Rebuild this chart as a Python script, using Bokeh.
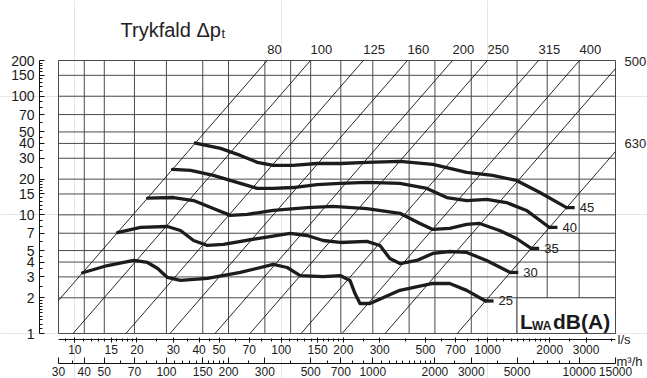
import math
from bokeh.plotting import figure
from bokeh.models import Range1d, LogAxis, LogScale, FixedTicker, Label, LabelSet, ColumnDataSource
from bokeh.embed import file_html
from bokeh.resources import INLINE
from bokeh.core.properties import value

FONT = "Liberation Sans"
INK = "#1a1a1a"

# ---------------- data ----------------
m3h_min, m3h_max = 30, 15000          # air flow span (m³/h)
p_min, p_max = 1, 200                 # pressure drop span (Pa)
m3h_per_ls = 3.6

p_ticks = [1, 2, 3, 4, 5, 7, 10, 15, 20, 30, 40, 50, 70, 100, 150, 200]
p_minor = [1.1, 1.2, 1.3, 1.4, 1.5, 1.6, 1.7, 1.8, 1.9, 2.5, 3.5, 4.5, 6, 8, 9,
           11, 12, 13, 14, 16, 17, 18, 19, 25, 35, 45, 60, 80, 90,
           110, 120, 130, 140, 160, 170, 180, 190]
ls_ticks = [10, 15, 20, 30, 40, 50, 70, 100, 150, 200, 300, 500, 700, 1000, 2000, 3000]
ls_minor = [9, 11, 12, 13, 14, 16, 17, 18, 19, 25, 35, 45, 60, 80, 90,
            110, 120, 130, 140, 160, 170, 180, 190, 250, 400, 600, 800, 900,
            1100, 1200, 1300, 1400, 1500, 1600, 1700, 1800, 1900, 2500, 4000]
m3h_ticks = [30, 40, 50, 70, 100, 150, 200, 300, 500, 700, 1000, 2000, 3000, 5000, 10000, 15000]
m3h_minor = [35, 60, 80, 90, 110, 120, 130, 140, 160, 170, 180, 190, 250, 400, 600, 800, 900,
             1100, 1200, 1300, 1400, 1500, 1600, 1700, 1800, 1900, 2500, 4000, 6000, 7000, 8000, 9000]
m3h_grid = [30, 40, 50, 70, 100, 150, 200, 300, 400, 500, 700, 1000, 1500, 2000, 3000, 5000, 7000, 10000, 15000]
p_grid = [1, 2, 3, 4, 5, 7, 10, 15, 20, 30, 40, 50, 70, 100, 150, 200]

duct_labels = ["80", "100", "125", "160", "200", "250", "315", "400", "500", "630"]
duct_q_at_200pa = [85.5, 138.6, 250, 409, 676, 998, 1764, 2787, 4506, 10076]   # l/s

level_labels = ["25", "30", "35", "40", "45"]
q_25 = [10.9, 14.4, 19.3, 22.5, 25.2, 28.1, 32.5, 43.9, 63.4, 91.5, 106.9, 123.6, 159.6, 192.8,
        215.4, 227.8, 240.8, 269.2, 375.8, 542.5, 655.3, 791.6, 977]
p_25 = [3.25, 3.74, 4.13, 3.97, 3.53, 2.97, 2.80, 2.91, 3.27, 3.82, 3.60, 3.08, 3.02, 3.08,
        2.80, 2.17, 1.79, 1.79, 2.31, 2.64, 2.64, 2.31, 1.88]
q_30 = [16.1, 20.8, 28.1, 32.5, 37.6, 43.9, 52.5, 76.6, 110.5, 133.6, 159.6, 192.8, 260, 301,
        336, 376, 454, 543, 655, 792, 989, 1288]
p_30 = [7.09, 7.83, 7.98, 7.38, 6.08, 5.52, 5.63, 6.32, 6.97, 6.70, 6.08, 5.85, 5.97, 5.52,
        4.29, 3.89, 4.13, 4.73, 4.91, 4.82, 4.13, 3.27]
q_35 = [22.5, 30.1, 37.6, 46.9, 56.7, 68.5, 91.5, 133.6, 178, 260, 376, 470, 543, 655, 792, 915,
        1143, 1381, 1626]
p_35 = [13.85, 14.0, 13.2, 11.3, 9.9, 10.1, 10.9, 11.5, 11.8, 11.3, 10.3, 8.46, 7.53, 7.68, 8.30, 8.46,
        7.38, 6.32, 5.21]
q_40 = [29.75, 36.4, 46.9, 63.4, 76.6, 91.5, 114, 149, 193, 260, 376, 508, 634, 792, 989, 1235, 1543, 1994]
p_40 = [24.2, 23.7, 21.5, 18.4, 16.7, 16.7, 17.0, 18.0, 18.4, 18.8, 18.4, 16.7, 14.0, 13.2, 13.5, 12.7, 10.9, 7.83]
q_45 = [38.4, 50.8, 63.4, 76.6, 91.5, 114, 149, 193, 260, 376, 543, 792, 1057, 1381, 1783, 2416]
p_45 = [40.3, 36.3, 31.7, 27.7, 26.1, 26.1, 27.1, 27.1, 27.7, 28.2, 26.6, 22.8, 21.5, 19.5, 15.5, 11.5]
curves_q = [q_25, q_30, q_35, q_40, q_45]
curves_p = [p_25, p_30, p_35, p_40, p_45]

# ---------------- layout (frame = whole canvas) ----------------
W, H = 647, 378
GX0, GX1 = 58, 615        # canvas x of grid left / right edge
GY0, GY1 = 60, 333        # canvas y of grid top (200 Pa) / bottom (1 Pa)
q_lo_ls = m3h_min / m3h_per_ls
q_hi_ls = m3h_max / m3h_per_ls
dec_x = (GX1 - GX0) / math.log10(q_hi_ls / q_lo_ls)
dec_y = (GY1 - GY0) / math.log10(p_max / p_min)

def x_at(px):
    return q_lo_ls * 10 ** ((px - GX0) / dec_x)

def y_at(py):
    return p_min * 10 ** ((GY1 - py) / dec_y)

p = figure(width=W, height=H, x_axis_type="log", y_axis_type="log",
           x_range=Range1d(x_at(0), x_at(W)), y_range=Range1d(y_at(H), y_at(0)),
           x_axis_location=None, y_axis_location=None, title=None,
           output_backend="svg", toolbar_location=None,
           min_border_left=0, min_border_right=0, min_border_top=0, min_border_bottom=0)
p.outline_line_color = None
p.background_fill_color = "white"
p.border_fill_color = "white"
p.extra_x_ranges = {"m3h": Range1d(x_at(0) * m3h_per_ls, x_at(W) * m3h_per_ls)}
p.extra_x_scales = {"m3h": LogScale()}

GRID_C = "#4a4a4a"
# grid
vx = [m / m3h_per_ls for m in m3h_grid]
p.segment(x0=vx, x1=vx, y0=[p_min] * len(vx), y1=[p_max] * len(vx), line_color=GRID_C, line_width=1)
p.segment(x0=[q_lo_ls] * len(p_grid), x1=[q_hi_ls] * len(p_grid), y0=p_grid, y1=p_grid,
          line_color=GRID_C, line_width=1)

# diagonal duct lines  dp = 200*(q/c)^2
dx0, dy0, dx1, dy1 = [], [], [], []
for c in duct_q_at_200pa:
    if c <= q_hi_ls:
        ux, uy = c, p_max
    else:
        ux, uy = q_hi_ls, p_max * (q_hi_ls / c) ** 2
    lq = c * math.sqrt(p_min / p_max)
    if lq >= q_lo_ls:
        lx, ly = lq, p_min
    else:
        lx, ly = q_lo_ls, p_max * (q_lo_ls / c) ** 2
    dx0.append(lx); dy0.append(ly); dx1.append(ux); dy1.append(uy)
p.segment(x0=dx0, y0=dy0, x1=dx1, y1=dy1, line_color="#111111", line_width=0.9)

# LWA box
box_left = 5000 / m3h_per_ls
p.quad(left=[box_left], right=[q_hi_ls], bottom=[p_min], top=[2],
       fill_color="white", line_color=GRID_C, line_width=1)

# curves
for qs, ps in zip(curves_q, curves_p):
    p.line(qs, ps, line_color="#1c1c1c", line_width=3.3, line_join="round", line_cap="round")
ends_q = [qs[-1] for qs in curves_q]
ends_p = [ps[-1] for ps in curves_p]
dash_k = 10 ** (8 / dec_x)
p.segment(x0=ends_q, x1=[q * dash_k for q in ends_q], y0=ends_p, y1=ends_p,
          line_color="#1c1c1c", line_width=3.3)
p.text(x=ends_q, y=ends_p, text=level_labels, x_offset=13, text_baseline="middle",
       text_align="left", text_font=value(FONT), text_font_size="13px", text_color="#222222")

# LWA dB(A) text
p.text(x=[box_left], y=[1.26], text=["L"], x_offset=3, text_font=value(FONT), text_font_style="bold",
       text_font_size="21px", text_baseline="alphabetic", text_color=INK)
p.text(x=[box_left], y=[1.15], text=["WA"], x_offset=15, text_font=value(FONT), text_font_style="bold",
       text_font_size="12px", text_baseline="alphabetic", text_color=INK)
p.text(x=[box_left], y=[1.26], text=["dB(A)"], x_offset=36, text_font=value(FONT), text_font_style="bold",
       text_font_size="21px", text_baseline="alphabetic", text_color=INK)

# duct size labels
top_src = ColumnDataSource(dict(x=[c for c in duct_q_at_200pa if c <= q_hi_ls],
                                y=[p_max for c in duct_q_at_200pa if c <= q_hi_ls],
                                t=[l for l, c in zip(duct_labels, duct_q_at_200pa) if c <= q_hi_ls]))
p.add_layout(LabelSet(x="x", y="y", text="t", source=top_src, y_offset=7, text_align="left",
                      text_baseline="alphabetic", text_font=value(FONT), text_font_size="13px",
                      text_color="#222222"))
right_src = ColumnDataSource(dict(x=[q_hi_ls for c in duct_q_at_200pa if c > q_hi_ls],
                                  y=[p_max * (q_hi_ls / c) ** 2 for c in duct_q_at_200pa if c > q_hi_ls],
                                  t=[l for l, c in zip(duct_labels, duct_q_at_200pa) if c > q_hi_ls]))
p.add_layout(LabelSet(x="x", y="y", text="t", source=right_src, x_offset=9, y_offset=3,
                      text_align="left", text_baseline="alphabetic", text_font=value(FONT),
                      text_font_size="13px", text_color="#222222"))

# title
p.add_layout(Label(x=120, y=H - 29, x_units="screen", y_units="screen", text="Trykfald Δp",
                   text_font=FONT, text_font_size="20px", text_baseline="alphabetic", text_color="#222222"))
p.add_layout(Label(x=221, y=H - 33, x_units="screen", y_units="screen", text="t",
                   text_font=FONT, text_font_size="13px", text_baseline="alphabetic", text_color="#222222"))

# axes
def style_axis(ax, ticks, minor, bounds, size, tin, tout, mtin, mtout, standoff):
    ax.ticker = FixedTicker(ticks=ticks, minor_ticks=minor)
    ax.bounds = bounds
    ax.major_label_overrides = {t: str(t) for t in ticks}
    ax.major_tick_in = tin
    ax.major_tick_out = tout
    ax.minor_tick_in = mtin
    ax.minor_tick_out = mtout
    ax.major_label_text_font = FONT
    ax.major_label_text_font_size = size
    ax.major_label_text_color = INK
    ax.major_label_standoff = standoff
    ax.axis_line_color = "#111111"
    ax.major_tick_line_color = "#111111"
    ax.minor_tick_line_color = "#111111"
    ax.axis_label = None

yax = LogAxis(fixed_location=x_at(39))
style_axis(yax, p_ticks, p_minor, (p_min, p_max), "14px", 5, 0, 3, 0, 5)
p.add_layout(yax, "left")

ls_ax = LogAxis(fixed_location=y_at(339))
style_axis(ls_ax, ls_ticks, ls_minor, (q_lo_ls, q_hi_ls), "12px", 2, 3, 1, 2, 2)
p.add_layout(ls_ax, "below")

m3h_ax = LogAxis(x_range_name="m3h", fixed_location=y_at(363))
style_axis(m3h_ax, m3h_ticks, m3h_minor, (m3h_min, m3h_max), "12px", 6, 0, 3, 0, 3)
p.add_layout(m3h_ax, "below")

p.add_layout(Label(x=617, y=H - 339, x_units="screen", y_units="screen", text="l/s", text_font=FONT,
                   text_font_size="13px", text_baseline="middle", text_color=INK))
p.add_layout(Label(x=616, y=H - 361, x_units="screen", y_units="screen", text="m³/h", text_font=FONT,
                   text_font_size="13px", text_baseline="middle", text_color=INK))

open("out.html", "w").write(file_html(p, INLINE))
